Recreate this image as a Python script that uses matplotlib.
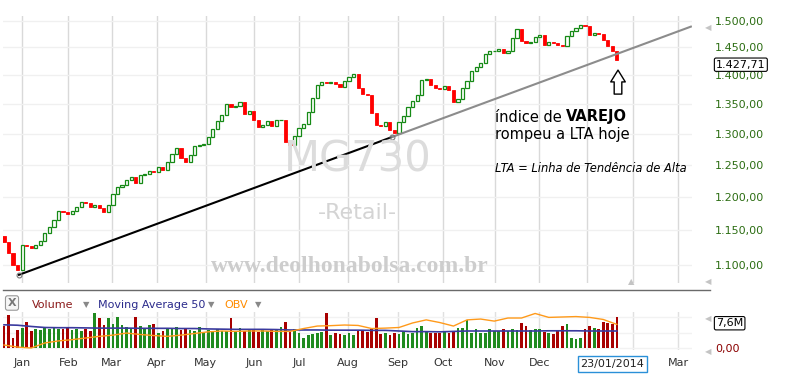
import numpy as np
import matplotlib
matplotlib.use("Agg")
import matplotlib.pyplot as plt
from matplotlib.lines import Line2D
from matplotlib.ticker import FuncFormatter
import matplotlib.transforms as mtransforms

# closes every 2 trading days, from mid Dec 2012 to 23/01/2014
closes = [
    1133, 1118, 1101, 1094, 1129, 1128, 1125, 1129, 1135, 1146,
    1155, 1165, 1179, 1177, 1174, 1179, 1185, 1192, 1191, 1185,
    1188, 1183, 1177, 1188, 1204, 1215, 1218, 1226, 1231, 1221,
    1234, 1235, 1240, 1238, 1246, 1242, 1254, 1267, 1276, 1261,
    1254, 1265, 1280, 1281, 1283, 1294, 1308, 1321, 1331, 1350,
    1345, 1347, 1353, 1333, 1338, 1323, 1311, 1314, 1321, 1312,
    1323, 1323, 1286, 1281, 1296, 1309, 1316, 1336, 1360, 1383,
    1388, 1386, 1388, 1384, 1379, 1390, 1397, 1402, 1377, 1367,
    1365, 1334, 1314, 1313, 1319, 1306, 1301, 1319, 1329, 1345,
    1355, 1365, 1391, 1393, 1383, 1377, 1376, 1381, 1374, 1353,
    1358, 1377, 1390, 1407, 1414, 1422, 1438, 1444, 1444, 1448,
    1440, 1444, 1467, 1485, 1462, 1458, 1460, 1469, 1473, 1454,
    1460, 1458, 1454, 1452, 1471, 1480, 1486, 1492, 1490, 1473,
    1477, 1475, 1464, 1452, 1444, 1427.71,
]
first_open = 1142

# volume in millions, same 2-day steps
volume = [
    5.3, 8.0, 2.5, 4.5, 5.0, 6.5, 4.3, 4.8, 4.4, 4.9,
    4.6, 5.0, 4.7, 4.6, 4.9, 4.4, 4.8, 4.3, 4.6, 4.1,
    8.5, 7.3, 5.6, 7.3, 6.0, 7.6, 5.6, 5.2, 4.8, 7.7,
    5.5, 4.9, 5.6, 6.0, 3.8, 4.2, 4.9, 4.6, 5.1, 4.5,
    4.8, 4.5, 4.2, 5.1, 4.0, 4.4, 4.0, 4.6, 4.3, 4.1,
    7.3, 4.0, 4.9, 4.1, 4.6, 4.4, 4.0, 4.5, 4.2, 4.8,
    4.6, 5.1, 6.5, 4.0, 4.6, 3.8, 2.4, 3.2, 3.5, 3.8,
    3.9, 8.5, 3.2, 3.8, 3.5, 3.3, 3.6, 3.3, 4.4, 4.3,
    4.0, 4.7, 7.3, 3.5, 3.8, 3.3, 3.7, 3.5, 3.9, 3.5,
    3.6, 4.9, 5.3, 4.2, 3.7, 3.6, 3.7, 4.0, 3.7, 4.3,
    4.9, 5.0, 6.9, 3.7, 4.6, 3.8, 3.6, 4.8, 4.2, 4.3,
    4.6, 4.3, 4.7, 4.5, 6.1, 5.3, 4.5, 4.6, 4.8, 4.0,
    3.8, 3.5, 4.5, 5.5, 5.9, 2.4, 2.3, 2.5, 4.6, 5.5,
    4.9, 4.8, 6.5, 6.2, 6.0, 7.6,
]

# moving average 50 and OBV, every 6 trading days
ma50 = [
    5.7, 5.6, 5.3, 5.05, 5.0, 5.0, 4.95, 4.9, 4.9, 4.9,
    4.85, 4.85, 4.85, 4.8, 4.8, 4.7, 4.65, 4.6, 4.6, 4.6,
    4.55, 4.45, 4.45, 4.45, 4.4, 4.4, 4.4, 4.35, 4.35, 4.2,
    4.05, 4.05, 4.0, 4.1, 4.2, 4.2, 4.2, 4.2, 4.2, 4.2,
    4.25, 4.25, 4.25, 4.2, 4.2, 4.2,
]
obv = [
    0.8, 0.3, 0.07, 1.3, 1.8, 2.1, 2.5, 2.9, 3.2, 3.7,
    3.35, 3.1, 2.9, 3.2, 3.6, 4.0, 4.2, 4.1, 4.2, 4.2,
    4.1, 4.1, 4.8, 5.4, 5.5, 5.65, 5.55, 4.8, 4.9, 5.05,
    6.15, 6.9, 6.25, 5.4, 6.9, 7.1, 6.6, 7.35, 7.35, 8.45,
    7.5, 7.6, 7.7, 7.5, 7.0, 5.8,
]

month_pos = [7.8, 28.3, 47.4, 67.3, 88.9, 110.3, 130.1, 151.7, 173.6,
             193.3, 216.3, 235.8, 256.7, 277.2, 297.0]
month_labels = ["Jan", "Feb", "Mar", "Apr", "May", "Jun", "Jul", "Aug", "Sep",
                "Oct", "Nov", "Dec", "", "", "Mar"]
price_ticks = [1100, 1150, 1200, 1250, 1300, 1350, 1400, 1450, 1500]

# LTA anchor points (trading day, price)
lta_x = [6.6, 171]
lta_y = [1087, 1294.5]

W, H = 800, 380


def px(x, y):
    return x / W, 1 - y / H


def br(v, _=None):
    s = f"{v:,.2f}"
    return s.replace(",", "#").replace(".", ",").replace("#", ".")


fig = plt.figure(figsize=(8, 3.8), dpi=100)
xlim = (-0.44, 303.1)

ax = fig.add_axes([3 / W, 1 - 283 / H, 689 / W, 267 / H])
ax.set_yscale("log")
ax.set_xlim(*xlim)
ax.set_ylim(1075.8, 1509)
for s in ax.spines.values():
    s.set_visible(False)
ax.set_xticks(month_pos)
ax.tick_params(axis="x", length=0, labelbottom=False)
ax.yaxis.tick_right()
ax.set_yticks(price_ticks)
ax.yaxis.set_major_formatter(FuncFormatter(br))
ax.yaxis.set_minor_locator(plt.NullLocator())
ax.tick_params(axis="y", length=0, pad=16.6, labelsize=8, labelcolor="#2d6e14")
ax.grid(axis="x", color="#d9d9d9", lw=1)
ax.grid(axis="y", color="#f0f0f0", lw=1)
ax.set_axisbelow(True)

# watermarks
fig.text(*px(358, 160), "MG730", fontsize=30, color="#dcdcdc", ha="center", va="center")
fig.text(*px(357, 213), "-Retail-", fontsize=16, color="#d4d4d4", ha="center", va="center")
fig.text(*px(350, 267), "www.deolhonabolsa.com.br", fontsize=17, family="Liberation Serif",
         weight="bold", color="#cdcdcd", ha="center", va="center")

# candles
cx = np.arange(len(closes)) * 2
opens = [first_open] + closes[:-1]
for x, o, c in zip(cx, opens, closes):
    if c >= o:
        ax.bar(x, c - o, bottom=o, width=1.4, facecolor="white", edgecolor="#168a16", lw=0.9, zorder=3)
    else:
        ax.bar(x, o - c, bottom=c, width=1.4, facecolor="#ff0000", edgecolor="#ff0000", lw=0.6, zorder=3)

# trend line
slope = (np.log(lta_y[1]) - np.log(lta_y[0])) / (lta_x[1] - lta_x[0])
x_end = 302.6
y_end = np.exp(np.log(lta_y[1]) + slope * (x_end - lta_x[1]))
ax.plot(lta_x, lta_y, color="black", lw=1.5, zorder=4)
ax.plot([lta_x[1], x_end], [lta_y[1], y_end], color="#8c8c8c", lw=1.5, zorder=4)
ax.plot(lta_x, lta_y, "o", ms=3.5, mfc="none", mec="#777777", mew=0.8, zorder=5)

# arrow under the last candle
ax.annotate("", xy=(270.5, 1409), xytext=(270.5, 1366.8),
            arrowprops=dict(arrowstyle="simple,head_length=0.85,head_width=1.05,tail_width=0.55",
                            fc="white", ec="black", lw=1, shrinkA=0, shrinkB=0), zorder=6)

# annotation text
t1 = fig.text(*px(495, 117), "índice de ", fontsize=10.5, ha="left", va="center")
fig.text(0, 0.5, "VAREJO", fontsize=10.5, weight="bold", ha="left", va="center",
         transform=mtransforms.offset_copy(t1.get_transform(), fig=fig, x=0, y=0)).remove()
ax.annotate("VAREJO", xy=(1, 0.5), xycoords=t1, fontsize=10.5, weight="bold", ha="left", va="center")
fig.text(*px(495, 135), "rompeu a LTA hoje", fontsize=10.5, ha="left", va="center")
fig.text(*px(495, 168), "LTA = Linha de Tendência de Alta", fontsize=8.3, style="italic",
         ha="left", va="center")

# last price box
ax.annotate(br(closes[-1]), xy=(1, closes[-1]), xycoords=("axes fraction", "data"),
            xytext=(17.3, -3.6), textcoords="offset points", ha="left", va="center",
            fontsize=8, bbox=dict(boxstyle="round,pad=0.15", fc="white", ec="black", lw=0.8),
            annotation_clip=False, zorder=10)

# small scroll markers
for (mx, my, m) in [(708, 28, "◀"), (708, 282, "◀"), (631, 282, "▲"), (708, 319, "◀"), (708, 352, "◀")]:
    fig.text(*px(mx, my), m, fontsize=6, color="#c4c4c4", ha="center", va="center")

# separator
fig.add_artist(Line2D([3 / W, 710 / W], [1 - 290 / H] * 2, color="#6a6a6a", lw=1))

# legend row of the volume panel
fig.text(*px(12, 303), "X", fontsize=8, weight="bold", color="#777777", ha="center", va="center",
         bbox=dict(boxstyle="round,pad=0.2", fc="#f6f6f6", ec="#999999", lw=0.8))
fig.text(*px(32, 305), "Volume", fontsize=8, color="#8b1a1a", ha="left", va="center")
fig.text(*px(86, 305), "▼", fontsize=6, color="#888888", ha="center", va="center")
fig.text(*px(98, 305), "Moving Average 50", fontsize=8, color="#2b2b8c", ha="left", va="center")
fig.text(*px(211, 305), "▼", fontsize=6, color="#888888", ha="center", va="center")
fig.text(*px(224, 305), "OBV", fontsize=8, color="#ff8c00", ha="left", va="center")
fig.text(*px(258, 305), "▼", fontsize=6, color="#888888", ha="center", va="center")

# volume panel
axv = fig.add_axes([3 / W, 1 - 350 / H, 689 / W, 38 / H])
axv.set_xlim(*xlim)
axv.set_ylim(-0.41, 8.81)
for s in axv.spines.values():
    s.set_visible(False)
vcol = ["#1f8a1f" if c >= o else "#a80000" for o, c in zip(opens, closes)]
axv.bar(cx, volume, width=1.2, color=vcol, zorder=3)
mx_ = np.arange(len(ma50)) * 6
axv.plot(mx_, ma50, color="#3a3a9e", lw=1.2, zorder=4)
axv.plot(mx_, obv, color="#ff9a1a", lw=1.0, zorder=4)
axv.set_xticks(month_pos)
axv.set_xticklabels(month_labels)
axv.tick_params(axis="x", length=0, pad=6, labelsize=8, labelcolor="#333333")
axv.yaxis.tick_right()
axv.set_yticks([0, 3.8, 7.6])
axv.set_yticklabels(["0,00", "", ""])
axv.tick_params(axis="y", length=0, pad=16.6, labelsize=8, labelcolor="#8b0000")
axv.grid(axis="x", color="#e0e0e0", lw=1)
axv.grid(axis="y", color="#f2f2f2", lw=1)
axv.set_axisbelow(True)

axv.annotate("7,6M", xy=(1, volume[-1]), xycoords=("axes fraction", "data"),
             xytext=(17.3, -4.5), textcoords="offset points", ha="left", va="center",
             fontsize=8, bbox=dict(boxstyle="round,pad=0.15", fc="white", ec="black", lw=0.8),
             annotation_clip=False, zorder=10)

# current date box
axv.text(cx[-1] - 2, -0.37, "23/01/2014", transform=mtransforms.blended_transform_factory(axv.transData, axv.transAxes),
         ha="center", va="center", fontsize=8, color="#222222",
         bbox=dict(boxstyle="square,pad=0.25", fc="white", ec="#2a90d8", lw=1), zorder=10)

fig.savefig("out.png", dpi=100, facecolor="white")
